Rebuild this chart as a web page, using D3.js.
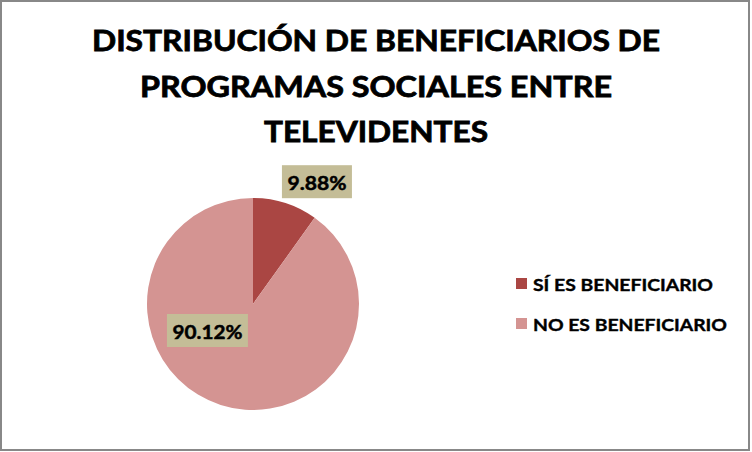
<!DOCTYPE html>
<html>
<head>
<meta charset="utf-8">
<script src="https://cdn.jsdelivr.net/npm/d3@7"></script>
<style>
  html, body { margin: 0; padding: 0; background: #fff; }
  svg { display: block; }
  text { font-family: Lato, "Open Sans", sans-serif; font-weight: bold; fill: #000; stroke: #000; }
</style>
</head>
<body>
<svg id="chart" width="752" height="452"></svg>
<script>
// ---- data ----
const titleLines = ["DISTRIBUCIÓN DE BENEFICIARIOS DE", "PROGRAMAS SOCIALES ENTRE", "TELEVIDENTES"];
const categories = ["SÍ ES BENEFICIARIO", "NO ES BENEFICIARIO"];
const values = [9.88, 90.12];
const valueLabels = ["9.88%", "90.12%"];
const colors = ["#AA4643", "#D49492"];

// ---- layout ----
const W = 752, H = 452;
const svg = d3.select("#chart");

svg.append("rect").attr("x", 1).attr("y", 1).attr("width", W - 4).attr("height", H - 3)
  .attr("fill", "#fff").attr("stroke", "#888888").attr("stroke-width", 2);

// title
const titleCx = 376;
const titleBaselines = [51, 97, 142];
const titleWidths = [568, 472, 224];
svg.append("g").selectAll("text").data(titleLines).join("text")
  .attr("x", titleCx).attr("y", (d, i) => titleBaselines[i])
  .attr("text-anchor", "middle")
  .attr("font-size", 28.5)
  .attr("stroke-width", 0.8)
  .attr("textLength", (d, i) => titleWidths[i])
  .attr("lengthAdjust", "spacingAndGlyphs")
  .text(d => d);

// pie
const cx = 253, cy = 304, R = 106;
const pie = d3.pie().sort(null).value(d => d);
const arcs = pie(values);
const arc = d3.arc().innerRadius(0).outerRadius(R);
const g = svg.append("g").attr("transform", `translate(${cx},${cy})`);
g.selectAll("path").data(arcs).join("path")
  .attr("d", arc)
  .attr("fill", (d, i) => colors[i]);

// data labels (placement: polar offset from the pie centre, Excel best-fit style)
const labelPolar = [
  { angle: 27.6, r: 138 },
  { angle: 239.8, r: 52.7 }
];
const labelTextWidths = [59, 70];
const boxPadX = 5.5, boxH = 33;
const lg = g.selectAll("g.lbl").data(arcs).join("g").attr("class", "lbl")
  .attr("transform", (d, i) => {
    const a = labelPolar[i].angle * Math.PI / 180, r = labelPolar[i].r;
    return `translate(${r * Math.sin(a)},${-r * Math.cos(a)})`;
  });
lg.append("rect")
  .attr("x", (d, i) => -(labelTextWidths[i] / 2 + boxPadX))
  .attr("y", -boxH / 2)
  .attr("width", (d, i) => labelTextWidths[i] + 2 * boxPadX)
  .attr("height", boxH)
  .attr("fill", "#C4BD97");
lg.append("text")
  .attr("x", 0).attr("y", 8)
  .attr("text-anchor", "middle")
  .attr("font-size", 19.5)
  .attr("stroke-width", 0.5)
  .attr("textLength", (d, i) => labelTextWidths[i])
  .attr("lengthAdjust", "spacingAndGlyphs")
  .text((d, i) => valueLabels[i]);

// legend
const legX = 516, legY0 = 278, legStep = 40, sw = 11;
const legTextWidths = [180, 194];
const leg = svg.append("g").selectAll("g").data(categories).join("g")
  .attr("transform", (d, i) => `translate(${legX},${legY0 + i * legStep})`);
leg.append("rect").attr("width", sw).attr("height", sw).attr("fill", (d, i) => colors[i]);
leg.append("text")
  .attr("x", 17).attr("y", 13)
  .attr("font-size", 17.6)
  .attr("stroke-width", 0.4)
  .attr("textLength", (d, i) => legTextWidths[i])
  .attr("lengthAdjust", "spacingAndGlyphs")
  .text(d => d);
</script>
</body>
</html>
